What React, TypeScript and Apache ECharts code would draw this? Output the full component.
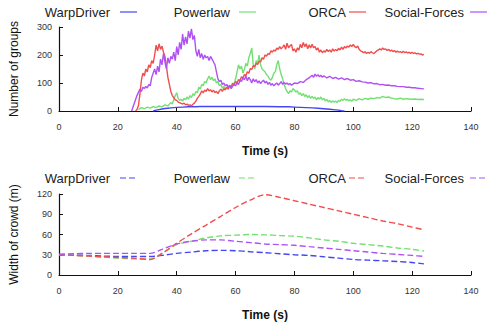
import React, { useEffect, useRef } from 'react';
import * as echarts from 'echarts';

const seriesNames = ['WarpDriver', 'Powerlaw', 'ORCA', 'Social-Forces'];
const xAxisTitle = 'Time (s)';
const topYTitle = 'Number of groups';
const bottomYTitle = 'Width of crowd (m)';

// Top chart: number of groups over time
const groupsWarpDriver: [number, number][] = [
  [32, 0], [33, 3], [34, 5], [35, 7], [36, 9], [37, 10], [38, 11], [39, 12], [40, 13], [42, 14], [44, 15], [46, 15],
  [48, 16], [50, 16], [55, 16], [60, 16], [65, 16], [70, 16], [75, 15], [78, 15], [80, 14], [82, 13], [84, 12],
  [86, 11], [88, 10], [90, 8], [92, 6], [94, 4], [95, 3], [96, 1], [97, 0],
];

const groupsPowerlaw: [number, number][] = [
  [27, 5], [28, 12], [29, 8], [30, 14], [31, 10], [32, 16], [33, 12], [34, 18], [35, 15], [36, 22], [37, 18], [38, 30],
  [38.5, 25], [39, 40], [39.5, 55], [40, 65], [40.5, 45], [41, 38], [41.5, 42], [42, 35], [42.5, 45], [43, 40],
  [43.5, 50], [44, 42], [44.5, 55], [45, 48], [45.5, 62], [46, 55], [46.5, 70], [47, 65], [47.5, 85], [48, 78],
  [48.5, 95], [49, 90], [49.5, 105], [50, 100], [50.5, 115], [51, 125], [51.5, 112], [52, 120], [52.5, 108], [53, 115],
  [53.5, 100], [54, 105], [54.5, 90], [55, 95], [55.5, 82], [56, 88], [56.5, 78], [57, 85], [57.5, 80], [58, 90],
  [58.5, 85], [59, 100], [59.5, 95], [60, 115], [60.5, 140], [61, 165], [61.5, 150], [62, 160], [62.5, 135], [63, 150],
  [63.5, 170], [64, 160], [64.5, 190], [65, 205], [65.5, 225], [66, 165], [66.5, 150], [67, 180], [67.5, 170], [68, 200],
  [68.5, 165], [69, 150], [69.5, 145], [70, 140], [70.5, 130], [71, 125], [71.5, 115], [72, 110], [72.5, 120], [73, 135],
  [73.5, 140], [74, 165], [74.5, 180], [75, 150], [75.5, 130], [76, 115], [76.5, 95], [77, 80], [77.5, 70], [78, 62],
  [78.5, 72], [79, 68], [79.5, 80], [80, 75], [80.5, 68], [81, 72], [81.5, 60], [82, 65], [82.5, 55], [83, 62],
  [83.5, 52], [84, 58], [84.5, 48], [85, 55], [85.5, 45], [86, 52], [86.5, 45], [87, 50], [87.5, 40], [88, 48],
  [88.5, 42], [89, 50], [89.5, 40], [90, 45], [90.5, 36], [91, 42], [91.5, 32], [92, 38], [92.5, 30], [93, 36],
  [93.5, 32], [94, 35], [94.5, 30], [95, 38], [95.5, 34], [96, 42], [96.5, 38], [97, 44], [97.5, 38], [98, 42],
  [98.5, 36], [99, 40], [99.5, 35], [100, 42], [101, 38], [102, 44], [103, 40], [104, 45], [105, 42], [106, 46],
  [107, 44], [108, 48], [109, 46], [110, 52], [111, 48], [112, 50], [113, 46], [114, 44], [115, 43], [116, 46],
  [117, 42], [118, 44], [119, 43], [120, 42], [121, 43], [122, 41], [123, 42], [124, 41],
];

const groupsORCA: [number, number][] = [
  [26, 0], [26.5, 5], [27, 20], [27.5, 60], [28, 110], [28.5, 135], [29, 125], [29.5, 150], [30, 140], [30.5, 165],
  [31, 155], [31.5, 180], [32, 170], [32.5, 200], [33, 235], [33.5, 215], [34, 240], [34.5, 220], [35, 232], [35.5, 210],
  [36, 195], [36.5, 160], [37, 120], [37.5, 95], [38, 70], [38.5, 55], [39, 48], [39.5, 40], [40, 38], [40.5, 32],
  [41, 30], [41.5, 27], [42, 25], [42.5, 28], [43, 22], [43.5, 25], [44, 20], [44.5, 22], [45, 18], [45.5, 24],
  [46, 28], [46.5, 35], [47, 45], [47.5, 52], [48, 60], [48.5, 72], [49, 65], [49.5, 75], [50, 70], [50.5, 80],
  [51, 72], [51.5, 76], [52, 68], [52.5, 74], [53, 66], [53.5, 70], [54, 62], [54.5, 72], [55, 78], [55.5, 70],
  [56, 80], [56.5, 75], [57, 85], [57.5, 78], [58, 90], [58.5, 85], [59, 98], [59.5, 92], [60, 105], [60.5, 100],
  [61, 112], [61.5, 108], [62, 122], [62.5, 118], [63, 130], [63.5, 126], [64, 140], [64.5, 135], [65, 152], [65.5, 148],
  [66, 162], [66.5, 158], [67, 170], [67.5, 166], [68, 178], [68.5, 175], [69, 190], [69.5, 185], [70, 200], [70.5, 196],
  [71, 205], [71.5, 202], [72, 215], [72.5, 210], [73, 218], [73.5, 214], [74, 225], [74.5, 220], [75, 230], [75.5, 222],
  [76, 228], [76.5, 236], [77, 220], [77.5, 242], [78, 226], [78.5, 232], [79, 238], [79.5, 215], [80, 222], [80.5, 210],
  [81, 225], [81.5, 218], [82, 238], [82.5, 226], [83, 245], [83.5, 230], [84, 240], [84.5, 222], [85, 236], [85.5, 225],
  [86, 238], [86.5, 226], [87, 230], [87.5, 218], [88, 225], [88.5, 210], [89, 218], [89.5, 208], [90, 215], [90.5, 210],
  [91, 220], [91.5, 212], [92, 218], [92.5, 210], [93, 222], [93.5, 214], [94, 220], [94.5, 215], [95, 224], [95.5, 218],
  [96, 228], [96.5, 220], [97, 230], [97.5, 225], [98, 232], [98.5, 228], [99, 236], [99.5, 230], [100, 238], [100.5, 230],
  [101, 226], [101.5, 232], [102, 220], [102.5, 215], [103, 212], [103.5, 208], [104, 212], [104.5, 205], [105, 210],
  [105.5, 206], [106, 212], [106.5, 208], [107, 205], [107.5, 210], [108, 215], [108.5, 218], [109, 222], [109.5, 218],
  [110, 225], [110.5, 220], [111, 222], [111.5, 216], [112, 220], [112.5, 214], [113, 218], [113.5, 212], [114, 216],
  [114.5, 210], [115, 214], [115.5, 210], [116, 212], [116.5, 208], [117, 213], [117.5, 208], [118, 211], [118.5, 207],
  [119, 210], [119.5, 206], [120, 210], [120.5, 205], [121, 208], [121.5, 204], [122, 206], [122.5, 203], [123, 204],
  [123.5, 200], [124, 202],
];

const groupsSocialForces: [number, number][] = [
  [24.7, 0], [25.5, 25], [26.5, 55], [27.5, 78], [28, 70], [28.5, 85], [29, 80], [29.5, 88], [30, 82], [30.5, 95],
  [31, 90], [31.5, 120], [32, 135], [32.5, 150], [33, 130], [33.5, 160], [34, 140], [34.5, 185], [35, 165], [35.5, 205],
  [36, 175], [36.5, 150], [37, 190], [37.5, 170], [38, 195], [38.5, 185], [39, 210], [39.5, 180], [40, 230], [40.5, 200],
  [41, 245], [41.5, 220], [42, 275], [42.5, 235], [43, 265], [43.5, 240], [44, 285], [44.5, 260], [45, 293], [45.5, 255],
  [46, 270], [46.5, 215], [47, 195], [47.5, 220], [48, 190], [48.5, 205], [49, 185], [49.5, 200], [50, 190], [50.5, 195],
  [51, 180], [51.5, 195], [52, 185], [52.5, 175], [53, 165], [53.5, 140], [54, 115], [54.5, 105], [55, 110], [55.5, 95],
  [56, 100], [56.5, 90], [57, 95], [57.5, 85], [58, 92], [58.5, 80], [59, 88], [59.5, 95], [60, 90], [60.5, 100],
  [61, 95], [61.5, 110], [62, 105], [62.5, 118], [63, 112], [63.5, 125], [64, 108], [64.5, 120], [65, 112], [65.5, 100],
  [66, 115], [66.5, 105], [67, 112], [67.5, 100], [68, 108], [68.5, 98], [69, 105], [69.5, 110], [70, 100], [70.5, 106],
  [71, 95], [71.5, 102], [72, 92], [72.5, 98], [73, 90], [73.5, 96], [74, 100], [74.5, 92], [75, 98], [75.5, 105],
  [76, 95], [76.5, 102], [77, 96], [77.5, 100], [78, 94], [78.5, 98], [79, 92], [79.5, 96], [80, 100], [81, 98],
  [82, 105], [83, 102], [84, 112], [85, 118], [86, 128], [86.5, 120], [87, 132], [87.5, 124], [88, 130], [88.5, 122],
  [89, 128], [89.5, 120], [90, 126], [91, 118], [92, 124], [93, 116], [94, 120], [95, 114], [96, 118], [97, 112],
  [98, 116], [99, 110], [100, 112], [101, 106], [102, 108], [103, 104], [104, 103], [105, 100], [106, 101], [107, 97],
  [108, 98], [109, 94], [110, 95], [111, 92], [112, 93], [113, 90], [114, 90], [115, 88], [116, 87], [117, 87],
  [118, 85], [119, 85], [120, 83], [121, 83], [122, 81], [123, 80], [124, 79],
];

// Bottom chart: width of crowd over time
const widthWarpDriver: [number, number][] = [
  [0, 30], [5, 29.5], [10, 29], [15, 28], [20, 27.5], [25, 27.5], [31, 27.5], [35, 29], [40, 32], [45, 34], [50, 36],
  [55, 36.5], [60, 36], [65, 34.5], [70, 33], [75, 31.5], [80, 30], [85, 29], [90, 27], [95, 25], [100, 23], [105, 22],
  [110, 21], [115, 20], [120, 18.5], [124, 16.5],
];
const widthPowerlaw: [number, number][] = [
  [0, 30], [5, 29], [10, 28], [15, 26.5], [20, 25], [25, 24], [31, 23.5], [35, 32], [40, 45], [45, 50], [50, 55],
  [55, 58], [60, 59], [65, 60], [70, 59.5], [75, 58.5], [80, 57.5], [85, 55], [90, 52], [95, 50], [100, 47], [105, 45],
  [110, 43], [115, 40], [120, 38], [124, 35.5],
];
const widthORCA: [number, number][] = [
  [0, 30], [5, 29], [10, 28], [15, 27], [20, 26], [25, 25], [31, 23], [35, 32], [40, 47], [45, 61], [50, 74], [55, 87],
  [60, 100], [65, 111], [70, 119], [75, 115], [80, 110], [85, 105], [90, 100], [95, 95], [100, 90], [105, 85], [110, 80],
  [115, 76], [120, 71], [124, 67],
];
const widthSocialForces: [number, number][] = [
  [0, 31], [5, 31.5], [10, 32], [15, 32], [20, 32], [25, 32], [31, 32], [35, 38], [40, 46], [45, 50], [50, 52], [55, 52],
  [60, 50], [65, 48], [70, 46], [75, 45], [80, 44], [85, 42], [90, 40], [95, 38], [100, 36], [105, 34], [110, 32],
  [115, 30.5], [120, 29], [124, 27.5],
];

const topData = [groupsWarpDriver, groupsPowerlaw, groupsORCA, groupsSocialForces];
const bottomData = [widthWarpDriver, widthPowerlaw, widthORCA, widthSocialForces];

const colors = ['#4646f2', '#72e072', '#f24c4c', '#b050f5'];
// gnuplot-style key: right edge of label text, then a short line sample
const keyTextRight = [110, 230, 346, 464];
const keySampleStart = [120, 239, 349, 470];
const KEY_SAMPLE_LEN = 17;
const keyRowsY = [12, 178];
const FONT = '"Liberation Sans", Arial, Helvetica, sans-serif';

export default function App() {
  const ref = useRef<HTMLDivElement>(null);
  useEffect(() => {
    if (!ref.current) return;
    const chart = echarts.init(ref.current, null, { renderer: 'svg' });

    const axisLine = { show: true, lineStyle: { color: '#111', width: 1.2 } };
    const axisTick = { show: true, inside: true, length: 4, lineStyle: { color: '#111', width: 1 } };
    const axisLabel = { color: '#333', fontSize: 9, fontFamily: FONT };

    const xAxisBase = (gridIndex: number) => ({
      type: 'value',
      gridIndex,
      min: 0,
      max: 140,
      interval: 20,
      axisLine,
      axisTick,
      axisLabel: { ...axisLabel, margin: 11 },
      splitLine: { show: false },
      name: xAxisTitle,
      nameLocation: 'middle',
      nameGap: 34,
      nameTextStyle: { fontSize: 12, fontWeight: 'bold', color: '#111', fontFamily: FONT },
    });

    const keyElements: any[] = [];
    keyRowsY.forEach((y, row) => {
      seriesNames.forEach((name, i) => {
        keyElements.push({
          type: 'text',
          x: keyTextRight[i],
          y,
          style: {
            text: name,
            align: 'right',
            verticalAlign: 'middle',
            fontSize: 13,
            fontFamily: FONT,
            fill: '#222',
          },
        });
        keyElements.push({
          type: 'line',
          shape: {
            x1: keySampleStart[i],
            y1: y,
            x2: keySampleStart[i] + KEY_SAMPLE_LEN,
            y2: y,
          },
          style: {
            stroke: colors[i],
            lineWidth: 1.2,
            lineDash: row === 1 ? [6, 3] : null,
          },
        });
      });
    });

    const series: any[] = [];
    seriesNames.forEach((name, i) => {
      series.push({
        name,
        type: 'line',
        xAxisIndex: 0,
        yAxisIndex: 0,
        data: topData[i],
        symbol: 'none',
        showSymbol: false,
        lineStyle: { color: colors[i], width: 1.4 },
        itemStyle: { color: colors[i] },
      });
    });
    seriesNames.forEach((name, i) => {
      series.push({
        name,
        type: 'line',
        xAxisIndex: 1,
        yAxisIndex: 1,
        data: bottomData[i],
        symbol: 'none',
        showSymbol: false,
        smooth: 0.3,
        lineStyle: { color: colors[i], width: 1.4, type: [6, 3] },
        itemStyle: { color: colors[i] },
      });
    });

    chart.setOption({
      animation: false,
      backgroundColor: '#fff',
      graphic: keyElements,
      grid: [
        { left: 57, right: 20, top: 27, height: 84 },
        { left: 57, right: 20, top: 194, height: 84 },
      ],
      xAxis: [xAxisBase(0), xAxisBase(1)],
      yAxis: [
        {
          type: 'value',
          gridIndex: 0,
          min: 0,
          max: 300,
          interval: 100,
          axisLine,
          axisTick,
          axisLabel: { ...axisLabel, margin: 7 },
          splitLine: { show: false },
          name: topYTitle,
          nameLocation: 'middle',
          nameGap: 39,
          nameTextStyle: { fontSize: 12, color: '#111', fontFamily: FONT },
        },
        {
          type: 'value',
          gridIndex: 1,
          min: 0,
          max: 120,
          interval: 30,
          axisLine,
          axisTick,
          axisLabel: { ...axisLabel, margin: 7 },
          splitLine: { show: false },
          name: bottomYTitle,
          nameLocation: 'middle',
          nameGap: 39,
          nameTextStyle: { fontSize: 12, color: '#111', fontFamily: FONT },
        },
      ],
      series,
    });

    return () => chart.dispose();
  }, []);

  return (
    <div
      ref={ref}
      style={{ position: 'absolute', left: 0, top: 0, width: 491, height: 322 }}
    />
  );
}
